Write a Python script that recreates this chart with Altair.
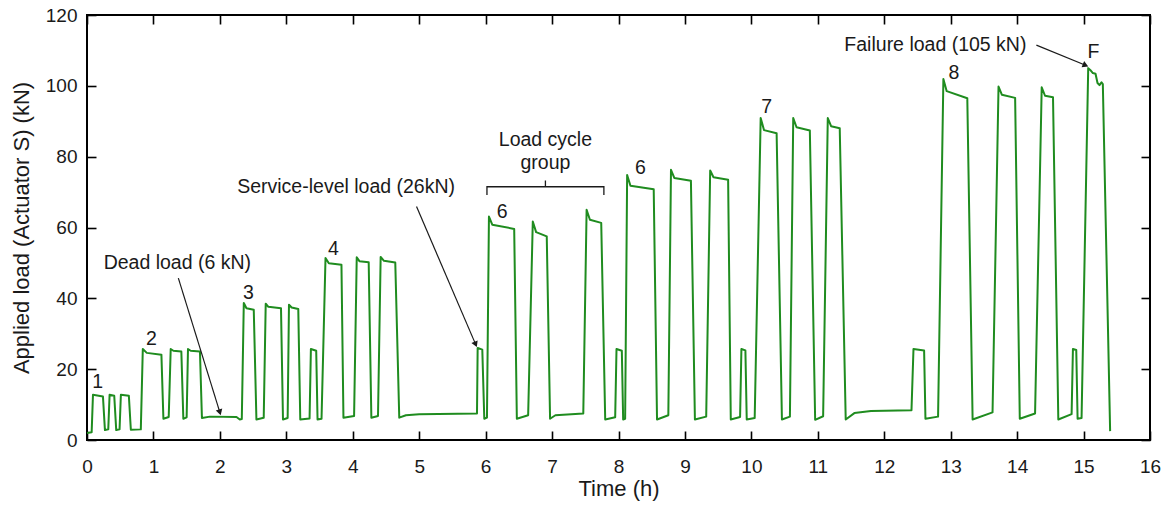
import math
import altair as alt
import pandas as pd

# ---- data ----
time_h = [
    0.00, 0.07, 0.09, 0.24, 0.27, 0.32, 0.34, 0.41, 0.44, 0.49, 0.51, 0.63, 0.66,
    0.81, 0.84, 0.90, 1.12, 1.15, 1.23, 1.26, 1.30, 1.42, 1.45, 1.50, 1.52, 1.56,
    1.70, 1.73, 1.85, 2.25, 2.30, 2.33, 2.36, 2.40, 2.51, 2.55, 2.66, 2.69, 2.73,
    2.92, 2.95, 3.02, 3.04, 3.08, 3.18, 3.21, 3.35, 3.37, 3.45, 3.47, 3.53, 3.59,
    3.64, 3.83, 3.86, 4.02, 4.06, 4.10, 4.24, 4.28, 4.38, 4.42, 4.47, 4.64, 4.70,
    4.80, 5.00, 5.87, 5.88, 5.95, 5.98, 6.02, 6.05, 6.10, 6.43, 6.47, 6.64, 6.71,
    6.76, 6.92, 6.97, 7.05, 7.47, 7.52, 7.57, 7.74, 7.80, 7.95, 7.97, 8.05, 8.07,
    8.10, 8.13, 8.18, 8.53, 8.58, 8.75, 8.79, 8.84, 9.09, 9.15, 9.32, 9.38, 9.43,
    9.65, 9.69, 9.83, 9.85, 9.91, 9.93, 10.05, 10.14, 10.19, 10.38, 10.46, 10.58,
    10.63, 10.68, 10.88, 10.96, 11.08, 11.15, 11.20, 11.33, 11.42, 11.55, 11.80,
    12.41, 12.44, 12.60, 12.62, 12.81, 12.89, 12.94, 13.25, 13.33, 13.63, 13.72,
    13.77, 13.97, 14.04, 14.27, 14.37, 14.42, 14.54, 14.62, 14.82, 14.84, 14.89,
    14.91, 14.97, 15.07, 15.10, 15.14, 15.18, 15.21, 15.24, 15.27, 15.29, 15.40,
]
load_kn = [
    2.0, 2.2, 12.8, 12.3, 2.8, 3.0, 12.8, 12.5, 2.8, 3.0, 12.8, 12.5, 2.9,
    3.0, 25.7, 24.6, 24.1, 6.0, 6.5, 25.7, 25.2, 25.0, 6.0, 6.4, 25.7, 25.2,
    25.0, 6.2, 6.6, 6.5, 5.8, 5.9, 38.7, 37.2, 36.8, 5.8, 6.3, 38.5, 37.6,
    37.2, 5.8, 6.2, 38.2, 37.4, 37.0, 5.8, 6.1, 25.7, 25.2, 5.8, 6.0, 51.4,
    49.9, 49.5, 6.3, 6.8, 51.6, 50.5, 50.2, 6.3, 6.8, 51.7, 50.6, 50.1, 6.3,
    7.0, 7.3, 7.5, 26.0, 25.5, 6.0, 6.3, 63.1, 60.8, 59.6, 6.0, 7.0, 61.7,
    58.7, 57.5, 6.0, 7.0, 7.5, 65.0, 62.2, 61.3, 5.8, 6.4, 25.7, 25.2, 5.8,
    6.0, 74.8, 71.8, 70.8, 5.8, 7.0, 76.3, 74.0, 73.2, 5.8, 6.6, 76.1, 74.2,
    73.5, 5.8, 6.5, 25.7, 25.3, 5.8, 6.2, 90.9, 87.5, 86.6, 5.8, 6.6,
    90.9, 88.3, 87.4, 5.7, 6.7, 90.9, 88.6, 88.0, 5.8, 7.6, 8.2,
    8.4, 25.7, 25.3, 6.0, 6.6, 101.9, 98.5, 96.5, 5.8, 7.8, 99.8,
    97.5, 96.6, 6.0, 7.5, 99.6, 97.2, 96.8, 5.8, 7.3, 25.7, 25.4,
    6.0, 6.2, 105.0, 104.5, 103.6, 103.4, 100.8, 100.2, 101.0, 100.5, 2.5,
]

x_ticks = list(range(0, 17))
y_ticks = [0, 20, 40, 60, 80, 100, 120]

cycle_labels = ["1", "2", "3", "4", "6", "6", "7", "8", "F"]
cycle_t = [0.16, 0.97, 2.43, 3.71, 6.25, 8.33, 10.23, 13.05, 15.15]
cycle_y = [16.3, 28.6, 41.5, 53.9, 64.3, 76.7, 93.9, 103.7, 109.6]

note_text = ["Dead load (6 kN)", "Service-level load (26kN)", "Load cycle", "group",
             "Failure load (105 kN)"]
note_t = [1.36, 3.90, 6.90, 6.90, 12.77]
note_y = [50.0, 71.5, 84.7, 78.2, 111.6]

arrow_t0 = [1.375, 4.96, 14.29]
arrow_y0 = [45.7, 65.9, 111.5]
arrow_t1 = [2.00, 5.85, 15.03]
arrow_y1 = [7.8, 27.0, 105.8]

bracket_t = [6.02, 6.02, 6.90, 6.90, 6.90, 7.78, 7.78]
bracket_y = [69.2, 71.5, 71.5, 73.3, 71.5, 71.5, 69.2]

# ---- layout ----
W, H = 1063, 425
FONT = "Liberation Sans"
GREEN = "#1f8c1f"
INK = "#1a1a1a"
TICK = 9

df = pd.DataFrame({"t": time_h, "load": load_kn, "i": list(range(len(time_h)))})
df_lab = pd.DataFrame({"t": cycle_t, "y": cycle_y, "s": cycle_labels})
df_note = pd.DataFrame({"t": note_t, "y": note_y, "s": note_text})

px_t = W / 16.0
px_y = H / 120.0
angles = []
for a, b, c, d in zip(arrow_t0, arrow_y0, arrow_t1, arrow_y1):
    dx = (c - a) * px_t
    dy = -(d - b) * px_y
    angles.append(math.degrees(math.atan2(dy, dx)) % 360)
df_arr = pd.DataFrame({"t0": arrow_t0, "y0": arrow_y0, "t1": arrow_t1,
                       "y1": arrow_y1, "ang": angles})
df_br = pd.DataFrame({"t": bracket_t, "y": bracket_y, "i": list(range(len(bracket_t)))})

xs = alt.Scale(domain=[0, 16], nice=False, zero=False)
ys = alt.Scale(domain=[0, 120], nice=False, zero=False)

main = alt.Chart(df).mark_line(color=GREEN, strokeWidth=2, strokeJoin="round").encode(
    x=alt.X("t:Q", scale=xs, axis=alt.Axis(
        orient="bottom", title="Time (h)", values=x_ticks, offset=-TICK,
        tickSize=TICK, domain=False, labelPadding=26, labelBaseline="middle",
        labelFlush=False, titlePadding=2, grid=False)),
    y=alt.Y("load:Q", scale=ys, axis=alt.Axis(
        orient="left", title="Applied load (Actuator S) (kN)", values=y_ticks,
        offset=-TICK, tickSize=TICK, domain=False, labelPadding=10,
        labelFlush=False, titlePadding=12, grid=False)),
    order="i:Q",
)

mirror = alt.Chart(df).mark_line(opacity=0).encode(
    x=alt.X("t:Q", scale=xs, axis=alt.Axis(
        orient="top", title="", values=x_ticks, offset=-TICK, tickSize=TICK,
        domain=False, labels=False, grid=False)),
    y=alt.Y("load:Q", scale=ys, axis=alt.Axis(
        orient="right", title="", values=y_ticks, offset=-TICK, tickSize=TICK,
        domain=False, labels=False, grid=False)),
    order="i:Q",
)

labels = alt.Chart(df_lab).mark_text(font=FONT, fontSize=19.5, color=INK,
                                     baseline="middle", align="center").encode(
    x=alt.X("t:Q", scale=xs, axis=None),
    y=alt.Y("y:Q", scale=ys, axis=None),
    text="s:N",
)

notes = alt.Chart(df_note).mark_text(font=FONT, fontSize=19.5, color=INK,
                                     baseline="middle", align="center").encode(
    x=alt.X("t:Q", scale=xs, axis=None),
    y=alt.Y("y:Q", scale=ys, axis=None),
    text="s:N",
)

arrows = alt.Chart(df_arr).mark_rule(color=INK, strokeWidth=1.2).encode(
    x=alt.X("t0:Q", scale=xs, axis=None),
    y=alt.Y("y0:Q", scale=ys, axis=None),
    x2="t1:Q",
    y2="y1:Q",
)

heads = alt.Chart(df_arr).mark_point(shape="triangle-right", filled=True,
                                     color=INK, opacity=1, size=45).encode(
    x=alt.X("t1:Q", scale=xs, axis=None),
    y=alt.Y("y1:Q", scale=ys, axis=None),
    angle=alt.Angle("ang:Q", scale=None),
)

bracket = alt.Chart(df_br).mark_line(color=INK, strokeWidth=1.3).encode(
    x=alt.X("t:Q", scale=xs, axis=None),
    y=alt.Y("y:Q", scale=ys, axis=None),
    order="i:Q",
)

chart = alt.layer(main, mirror, labels, notes, arrows, heads, bracket).resolve_axis(
    x="independent", y="independent"
).properties(
    width=W, height=H,
    autosize=alt.AutoSizeParams(type="none"),
    padding={"left": 79, "top": 7, "right": 11, "bottom": 61},
    background="white",
).configure_view(
    stroke="black", strokeWidth=2
).configure_axis(
    labelFont=FONT, titleFont=FONT, labelFontSize=19, titleFontSize=22,
    labelColor=INK, titleColor=INK, titleFontWeight="normal",
    tickColor="black", tickWidth=1.6,
)

chart.save("out.html", embed_options={"renderer": "svg", "actions": False})
